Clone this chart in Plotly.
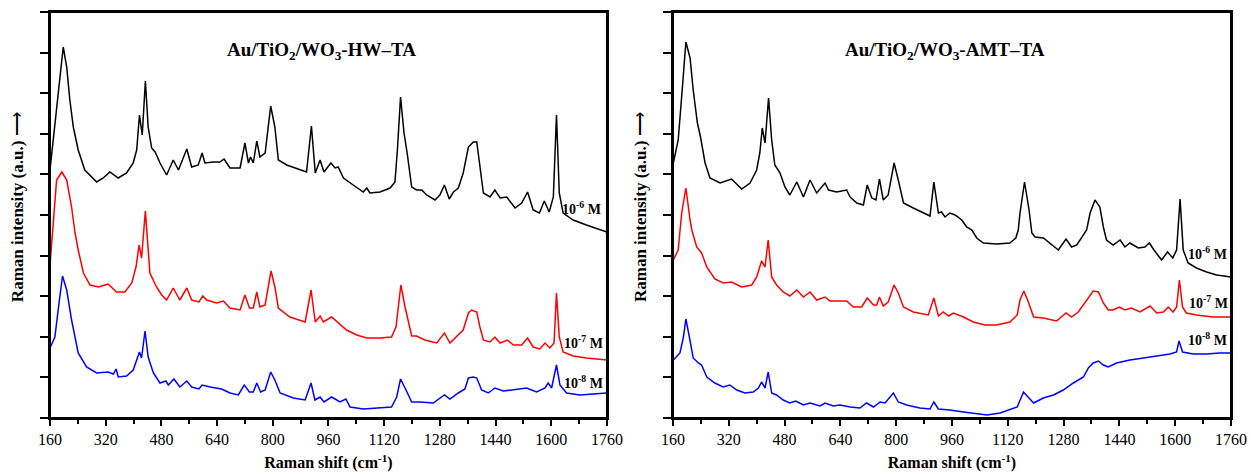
import plotly.graph_objects as go

# ---------------- data (Raman shift in cm-1, intensity in a.u.) ----------------
hw6_x = [160,198,208,217,227,241,260,294,313,332,356,380,399,409,417,425,434,442,452,462,476,495,514,529,553,567,586,597,605,629,648,660,677,706,720,730,736,744,754,763,778,794,806,816,840,878,897,911,922,936,947,967,979,988,1003,1031,1060,1070,1079,1108,1137,1151,1158,1167,1177,1186,1199,1213,1228,1242,1266,1280,1293,1307,1319,1333,1347,1362,1376,1386,1395,1405,1424,1438,1453,1472,1496,1515,1532,1548,1566,1580,1594,1606,1615,1623,1634,1663,1701,1740,1760]
hw6_y = [248,371,351,318,291,268,248,236,240,246,240,245,255,268,303,283,337,291,270,266,255,243,258,248,269,251,253,265,255,256,256,259,250,250,275,255,261,255,277,261,265,312,291,258,253,248,246,292,245,258,246,255,250,251,240,233,226,230,225,226,230,236,268,321,285,265,231,228,228,223,218,223,233,219,226,230,245,271,276,276,251,225,221,228,220,221,210,215,226,208,205,217,206,221,303,225,205,198,193,188,186]

hw7_x = [160,179,194,208,222,232,241,256,275,299,327,351,375,395,407,416,423,434,447,466,481,495,514,533,553,567,588,599,610,639,658,677,706,720,733,744,754,763,778,795,806,816,849,893,910,922,936,945,969,988,1012,1041,1070,1108,1141,1154,1168,1180,1189,1199,1213,1237,1271,1293,1309,1328,1347,1362,1371,1386,1395,1405,1424,1438,1453,1474,1491,1515,1532,1548,1567,1582,1596,1608,1615,1623,1634,1663,1701,1760]
hw7_y = [153,238,246,238,211,185,168,145,133,131,134,126,126,135,151,173,160,207,145,131,123,118,130,118,130,118,116,122,118,115,117,110,108,123,110,110,126,111,113,147,131,110,101,96,128,96,102,96,101,95,88,83,80,80,81,91,133,111,98,82,82,78,75,85,75,81,88,105,108,106,91,78,76,81,75,78,73,73,80,71,69,75,70,75,125,81,66,62,60,58]

hw8_x = [160,174,187,196,208,222,241,265,294,327,342,350,356,380,399,409,417,423,433,442,457,476,493,500,516,533,553,567,588,597,620,653,677,701,718,733,744,754,765,778,794,806,821,859,893,910,921,936,947,969,993,1010,1022,1060,1108,1141,1156,1167,1180,1199,1223,1261,1293,1309,1333,1352,1362,1376,1386,1400,1419,1438,1462,1491,1529,1558,1582,1591,1601,1615,1625,1644,1682,1720,1760]
hw8_y = [70,81,118,142,128,98,65,51,45,46,44,49,41,42,48,58,66,60,87,61,45,35,37,33,39,31,37,31,29,33,31,29,25,23,33,26,26,35,26,28,46,38,25,20,18,35,18,21,16,21,16,19,11,9,10,11,21,39,30,16,16,15,23,19,25,29,40,41,40,28,25,30,27,28,30,26,30,35,30,53,33,25,23,24,25]

amt6_x = [161,175,188,197,209,218,230,239,252,266,295,328,357,381,400,409,416,424,434,443,452,467,481,495,515,534,553,572,596,606,629,658,668,687,706,717,730,742,752,763,777,794,806,821,849,887,897,908,921,930,940,954,969,988,1002,1017,1031,1050,1088,1126,1143,1150,1155,1168,1181,1189,1198,1222,1241,1265,1287,1303,1318,1332,1346,1356,1370,1384,1394,1403,1422,1442,1456,1470,1494,1513,1526,1539,1561,1578,1593,1604,1614,1623,1637,1661,1690,1719,1760]
amt6_y = [255,278,335,376,360,328,295,281,255,240,235,239,229,235,248,265,290,275,320,278,253,245,231,223,236,221,238,225,235,228,226,228,221,215,213,233,220,218,239,218,223,255,238,215,210,203,202,236,205,206,201,205,203,198,191,188,180,175,174,175,180,188,205,236,208,185,181,180,175,168,179,171,173,181,188,205,218,211,191,178,173,178,171,175,170,171,175,168,158,166,160,168,219,168,155,150,146,143,141]

amt7_x = [161,175,185,197,209,214,228,242,257,280,304,328,357,386,400,414,424,433,443,457,476,495,515,534,553,572,596,610,639,658,677,701,717,735,744,752,763,777,794,806,821,849,892,908,921,935,950,964,993,1021,1055,1088,1126,1147,1155,1166,1179,1194,1222,1260,1287,1303,1322,1346,1365,1380,1394,1408,1422,1440,1456,1475,1499,1528,1547,1566,1580,1594,1604,1612,1621,1632,1661,1708,1760]
amt7_y = [158,168,205,230,198,188,171,165,151,139,135,136,131,133,141,157,151,178,141,133,126,122,128,121,126,118,121,117,117,117,111,111,120,113,113,121,112,116,133,125,111,106,103,120,102,106,102,105,101,96,93,93,96,103,118,127,116,101,100,97,105,101,106,118,127,126,115,108,108,111,108,110,106,112,105,106,111,106,111,138,111,105,103,101,101]

amt8_x = [161,180,190,197,207,218,233,242,257,280,304,323,343,366,390,405,414,424,433,443,457,476,495,512,534,553,582,596,620,639,668,696,715,735,754,768,792,806,830,868,897,908,921,954,993,1031,1060,1098,1126,1147,1165,1179,1194,1222,1251,1279,1308,1337,1351,1365,1380,1394,1408,1432,1470,1509,1547,1585,1604,1611,1621,1652,1690,1728,1760]
amt8_y = [58,65,81,99,81,60,55,53,41,35,31,33,28,25,26,30,36,30,46,25,23,18,15,17,13,15,12,15,12,13,11,10,15,11,16,15,25,16,13,10,9,16,9,8,6,4,3,5,8,11,26,21,15,20,23,28,35,41,50,55,57,53,51,55,58,60,62,64,66,77,66,64,64,65,65]

x_ticks = [160, 320, 480, 640, 800, 960, 1120, 1280, 1440, 1600, 1760]
panel_titles = ["Au/TiO<sub>2</sub>/WO<sub>3</sub>-HW\u2013TA", "Au/TiO<sub>2</sub>/WO<sub>3</sub>-AMT\u2013TA"]
conc_labels = ["10<sup>-6</sup> M", "10<sup>-7</sup> M", "10<sup>-8</sup> M"]
colors = ["#000000", "#ff0000", "#0000ff"]

# ---------------- figure ----------------
FONT = "Times New Roman, Liberation Serif, serif"
fig = go.Figure()

left = [(hw6_x, hw6_y), (hw7_x, hw7_y), (hw8_x, hw8_y)]
right = [(amt6_x, amt6_y), (amt7_x, amt7_y), (amt8_x, amt8_y)]
for (xs, ys), c, lab in zip(left, colors, conc_labels):
    fig.add_trace(go.Scatter(x=xs, y=ys, mode="lines", line=dict(color=c, width=1.5),
                             xaxis="x", yaxis="y", showlegend=False, name=lab))
for (xs, ys), c, lab in zip(right, colors, conc_labels):
    fig.add_trace(go.Scatter(x=xs, y=ys, mode="lines", line=dict(color=c, width=1.5),
                             xaxis="x2", yaxis="y2", showlegend=False, name=lab))

ytickvals = [i * 40.6 for i in range(11)]

def xaxis(domain, anchor):
    return dict(domain=domain, anchor=anchor, range=[160, 1760], tickvals=x_ticks, automargin=False,
                ticks="outside", ticklen=6, tickwidth=1.5, tickcolor="black",
                minor=dict(tickvals=[x + 80 for x in x_ticks[:-1]], ticks="outside", ticklen=4, tickwidth=1.5, tickcolor="black"),
                showline=True, linecolor="black", linewidth=2, mirror=True, showgrid=False, zeroline=False,
                tickfont=dict(family=FONT, size=16, color="black"),
                title=dict(text="<b>Raman shift (cm<sup>-1</sup>)</b>", font=dict(family=FONT, size=16, color="black"), standoff=10))

def yaxis(anchor):
    return dict(domain=[0, 1], anchor=anchor, range=[0, 406], tickvals=ytickvals, showticklabels=False,
                automargin=False, ticks="outside", ticklen=8, tickwidth=1.5, tickcolor="black",
                showline=True, linecolor="black", linewidth=2, mirror=True, showgrid=False, zeroline=False)

fig.update_layout(
    width=1251, height=474,
    margin=dict(l=50, r=20, t=12, b=56, autoexpand=False),
    paper_bgcolor="white", plot_bgcolor="white",
    xaxis=xaxis([0, 0.4716], "y"),
    yaxis=yaxis("x"),
    xaxis2=xaxis([0.5275, 1.0], "y2"),
    yaxis2=yaxis("x2"),
)

# frame around each panel
shapes = []
for xr, yr in [("x domain", "y domain"), ("x2 domain", "y2 domain")]:
    shapes.append(dict(type="rect", xref=xr, yref=yr, x0=0, x1=1, y0=0, y1=1,
                       line=dict(color="black", width=2), fillcolor="rgba(0,0,0,0)", layer="above"))
fig.update_layout(shapes=shapes)

ann = []
# panel titles
for t, xr, yr in [(panel_titles[0], "x domain", "y domain"), (panel_titles[1], "x2 domain", "y2 domain")]:
    ann.append(dict(text="<b>" + t + "</b>", xref=xr, yref=yr, x=0.488, y=0.905, showarrow=False,
                    font=dict(family=FONT, size=19, color="black"), xanchor="center", yanchor="middle"))
# y titles
for xr, yr in [("x domain", "y domain"), ("x2 domain", "y2 domain")]:
    ann.append(dict(text="<b>Raman intensity (a.u.)</b> \u27f6", xref=xr, yref=yr, x=-0.057, y=0.52,
                    textangle=-90, showarrow=False, font=dict(family=FONT, size=17, color="black"),
                    xanchor="center", yanchor="middle"))
# concentration labels
for lab, (xx, yy) in zip(conc_labels, [(1688, 210), (1694, 76), (1694, 36)]):
    ann.append(dict(text="<b>" + lab + "</b>", xref="x", yref="y", x=xx, y=yy, showarrow=False,
                    font=dict(family=FONT, size=14, color="black")))
for lab, (xx, yy) in zip(conc_labels, [(1693, 165), (1696, 116), (1693, 79)]):
    ann.append(dict(text="<b>" + lab + "</b>", xref="x2", yref="y2", x=xx, y=yy, showarrow=False,
                    font=dict(family=FONT, size=14, color="black")))
fig.update_layout(annotations=ann)

fig.write_html("out.html")
